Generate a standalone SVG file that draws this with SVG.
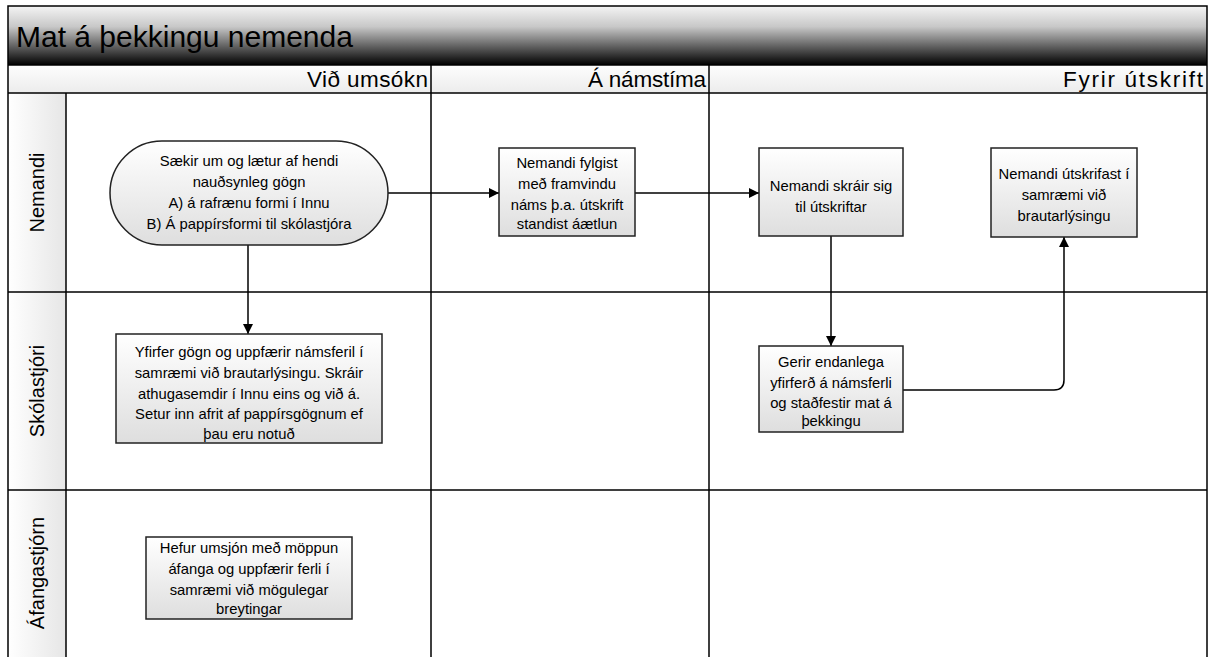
<svg xmlns="http://www.w3.org/2000/svg" width="1210" height="657" viewBox="0 0 1210 657">
<style>
  .lane { fill: none; stroke: #000; stroke-width: 1.5; }
  .box { fill: url(#boxGrad); stroke: #222; stroke-width: 1.5; }
  .txt { font-family: "Liberation Sans", Arial, sans-serif; font-size: 14.8px; fill: #000; text-anchor: middle; }
  .hdr { font-family: "Liberation Sans", Arial, sans-serif; font-size: 22.5px; fill: #000; text-anchor: end; }
  .lbl { font-family: "Liberation Sans", Arial, sans-serif; font-size: 20px; fill: #000; text-anchor: middle; }
  .conn { fill: none; stroke: #000; stroke-width: 1.5; }
</style>
<defs>
  <linearGradient id="titleGrad" x1="0" y1="0" x2="0" y2="1">
    <stop offset="0" stop-color="#f4f4f4"/>
    <stop offset="0.35" stop-color="#c8c8c8"/>
    <stop offset="1" stop-color="#000"/>
  </linearGradient>
  <linearGradient id="hdrGrad" x1="0" y1="0" x2="0" y2="1">
    <stop offset="0" stop-color="#fdfdfd"/>
    <stop offset="1" stop-color="#ececec"/>
  </linearGradient>
  <linearGradient id="lblGrad" x1="0" y1="0" x2="1" y2="0">
    <stop offset="0" stop-color="#ffffff"/>
    <stop offset="1" stop-color="#e6e6e6"/>
  </linearGradient>
  <linearGradient id="boxGrad" x1="0" y1="0" x2="0" y2="1">
    <stop offset="0" stop-color="#ffffff"/>
    <stop offset="1" stop-color="#dedede"/>
  </linearGradient>
  <marker id="arrow" viewBox="0 0 10 10" refX="10" refY="5" markerWidth="10" markerHeight="10" markerUnits="userSpaceOnUse" orient="auto">
    <path d="M0,0 L10,5 L0,10 Z" fill="#000"/>
  </marker>
</defs>

<rect x="0" y="0" width="1210" height="657" fill="#fff"/>

<g id="pool">
  <rect x="8" y="6" width="1199" height="59" fill="url(#titleGrad)"/>
  <text x="16" y="47" font-family="'Liberation Sans', Arial, sans-serif" font-size="30px" fill="#000">Mat á þekkingu nemenda</text>
  <rect x="8" y="65" width="1199" height="28" fill="url(#hdrGrad)"/>
  <rect x="8" y="93" width="58" height="564" fill="url(#lblGrad)"/>
  <text class="hdr" x="428" y="87" textLength="121" lengthAdjust="spacing">Við umsókn</text>
  <text class="hdr" x="706" y="87" textLength="118" lengthAdjust="spacing">Á námstíma</text>
  <text class="hdr" x="1203" y="87" textLength="140" lengthAdjust="spacing">Fyrir útskrift</text>
  <text class="lbl" transform="translate(44 192.5) rotate(-90)">Nemandi</text>
  <text class="lbl" transform="translate(44 391) rotate(-90)">Skólastjóri</text>
  <text class="lbl" transform="translate(44 573) rotate(-90)">Áfangastjórn</text>
  <path class="lane" d="M8,660 V6 H1207 V660"/>
  <path class="lane" d="M8,65 H1207 M8,93 H1207 M8,292 H1207 M8,490 H1207"/>
  <path class="lane" d="M66,93 V660 M431,65 V660 M709,65 V660"/>
</g>

<g id="connectors">
  <path class="conn" d="M388,193 H499" marker-end="url(#arrow)"/>
  <path class="conn" d="M635,193 H759" marker-end="url(#arrow)"/>
  <path class="conn" d="M248,245 V334" marker-end="url(#arrow)"/>
  <path class="conn" d="M831,236 V346" marker-end="url(#arrow)"/>
  <path class="conn" d="M903,390 H1054 Q1064,390 1064,380 V237" marker-end="url(#arrow)"/>
</g>

<g id="n-saekir">
  <rect class="box" x="110" y="141" width="278" height="104" rx="52" ry="52"/>
  <text class="txt" x="249" y="166">Sækir um og lætur af hendi</text>
  <text class="txt" x="249" y="187">nauðsynleg gögn</text>
  <text class="txt" x="249" y="208">A) á rafrænu formi í Innu</text>
  <text class="txt" x="249" y="229">B) Á pappírsformi til skólastjóra</text>
</g>

<g id="n-fylgist">
  <rect class="box" x="499" y="148" width="136" height="88"/>
  <text class="txt" x="567" y="168">Nemandi fylgist</text>
  <text class="txt" x="567" y="189">með framvindu</text>
  <text class="txt" x="567" y="210">náms þ.a. útskrift</text>
  <text class="txt" x="567" y="229">standist áætlun</text>
</g>

<g id="n-skrair">
  <rect class="box" x="759" y="148" width="144" height="88"/>
  <text class="txt" x="831" y="191">Nemandi skráir sig</text>
  <text class="txt" x="831" y="212">til útskriftar</text>
</g>

<g id="n-utskrifast">
  <rect class="box" x="991" y="148" width="146" height="89"/>
  <text class="txt" x="1064" y="179">Nemandi útskrifast í</text>
  <text class="txt" x="1064" y="200">samræmi við</text>
  <text class="txt" x="1064" y="221">brautarlýsingu</text>
</g>

<g id="n-yfirfer">
  <rect class="box" x="116" y="334" width="266" height="109"/>
  <text class="txt" x="249" y="357">Yfirfer gögn og uppfærir námsferil í</text>
  <text class="txt" x="249" y="378">samræmi við brautarlýsingu. Skráir</text>
  <text class="txt" x="249" y="399">athugasemdir í Innu eins og við á.</text>
  <text class="txt" x="249" y="419">Setur inn afrit af pappírsgögnum ef</text>
  <text class="txt" x="249" y="439">þau eru notuð</text>
</g>

<g id="n-gerir">
  <rect class="box" x="759" y="346" width="144" height="86"/>
  <text class="txt" x="831" y="367">Gerir endanlega</text>
  <text class="txt" x="831" y="388">yfirferð á námsferli</text>
  <text class="txt" x="831" y="408">og staðfestir mat á</text>
  <text class="txt" x="831" y="426">þekkingu</text>
</g>

<g id="n-hefur">
  <rect class="box" x="146" y="537" width="206" height="82"/>
  <text class="txt" x="249" y="553">Hefur umsjón með möppun</text>
  <text class="txt" x="249" y="574">áfanga og uppfærir ferli í</text>
  <text class="txt" x="249" y="595">samræmi við mögulegar</text>
  <text class="txt" x="249" y="614">breytingar</text>
</g>
</svg>
